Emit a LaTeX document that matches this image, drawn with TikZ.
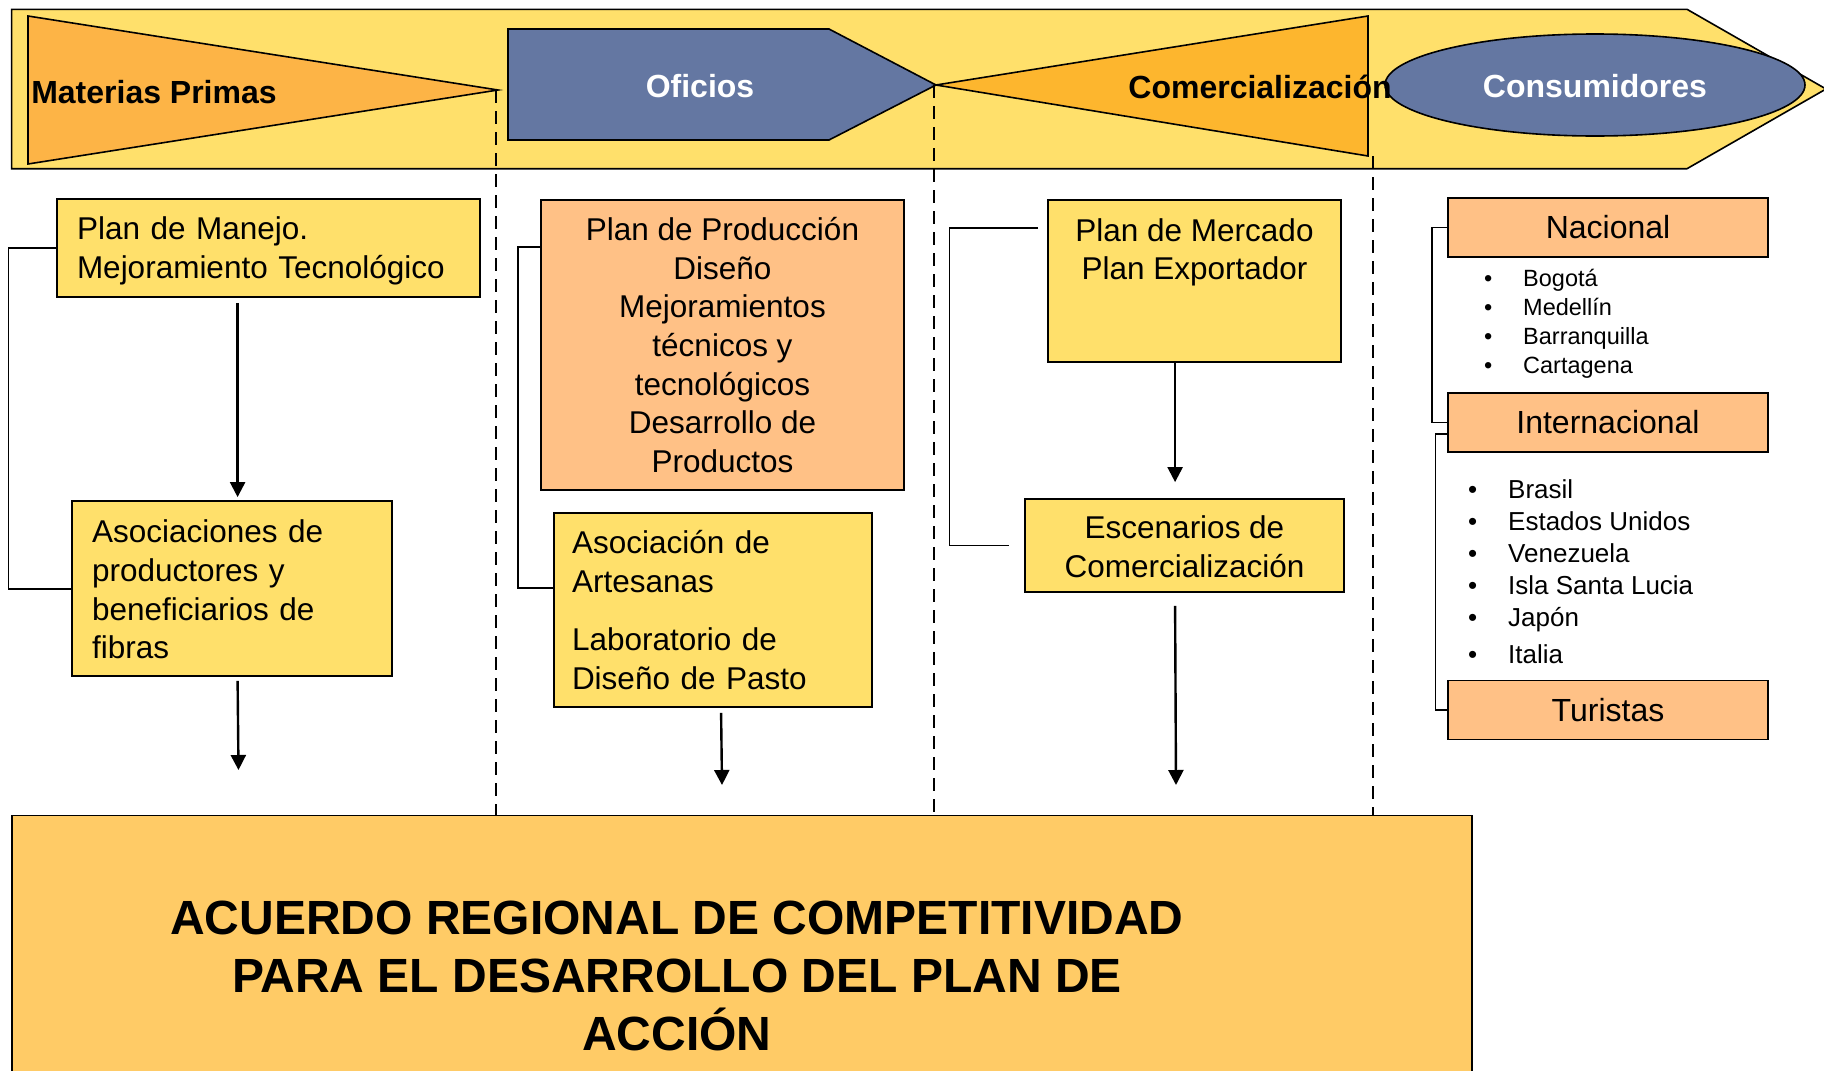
\documentclass[tikz,border=0pt]{standalone}
\usepackage{fontspec}
\setmainfont{Liberation Sans}
\usetikzlibrary{arrows.meta,calc,shapes.geometric}
\definecolor{bannerY}{HTML}{FFE06B}
\definecolor{mpOrange}{HTML}{FDB446}
\definecolor{slateB}{HTML}{6477A2}
\definecolor{comOrange}{HTML}{FDB62E}
\definecolor{boxY}{HTML}{FFE06B}
\definecolor{peach}{HTML}{FFC186}
\definecolor{bottomY}{HTML}{FFCB66}
\begin{document}
\begin{tikzpicture}[x=1pt,y=-1pt,
  ybox/.style={draw=black, line width=1.8pt, fill=boxY, inner sep=0pt, font=\fontsize{31.5}{38.6}\selectfont},
  pbox/.style={draw=black, line width=1.8pt, fill=peach, inner sep=0pt, font=\fontsize{31.5}{38.6}\selectfont},
  cbox/.style={draw=black, line width=1.8pt, fill=peach, inner sep=0pt, minimum width=320pt, minimum height=59pt, font=\fontsize{32}{38}\selectfont},
  shapeline/.style={draw=black, line width=1.6pt},
  bannerlbl/.style={font=\bfseries\fontsize{32}{38}\selectfont, inner sep=0pt},
  bracket/.style={line width=1.5pt},
  arr/.style={line width=2.4pt, -{Triangle[length=15pt,width=15pt]}},
  sepline/.style={line width=1.8pt, dash pattern=on 13pt off 8pt},
  smalllist/.style={anchor=base west, inner sep=0pt, font=\fontsize{23.5}{28}\selectfont},
  biglist/.style={anchor=base west, inner sep=0pt, font=\fontsize{26}{30}\selectfont}
]
\useasboundingbox (0,0) rectangle (1824,1071);
\clip (0,0) rectangle (1824,1071);
\fill[white] (0,0) rectangle (1824,1071);

% banner
\draw[shapeline, fill=bannerY] (11.6,9.3) -- (1687,9.3) -- (1826,89) -- (1687,168.7) -- (11.6,168.7) -- cycle;
\draw[shapeline, fill=mpOrange] (28,16) -- (498,90) -- (28,164) -- cycle;
\draw[shapeline, fill=slateB] (508,29) -- (829,29) -- (936,85) -- (829,140) -- (508,140) -- cycle;
\draw[shapeline, fill=comOrange] (936,85) -- (1368,16) -- (1368,156) -- cycle;
\draw[shapeline, fill=slateB] (1595,85) ellipse [x radius=210, y radius=51];

\node[bannerlbl] (mp) at (154,92) {Materias Primas};
\node[bannerlbl, text=white] (of) at (700,86) {Oficios};
\node[bannerlbl] (com) at (1260,87) {Comercialización};
\node[bannerlbl, text=white] (cons) at (1595,86) {Consumidores};

% dashed separators
\coordinate (d1t) at (495.6,90);  \coordinate (d1b) at (495.6,815);
\coordinate (d2t) at (934,85);    \coordinate (d2b) at (934,815);
\coordinate (d3t) at (1373,156);  \coordinate (d3b) at (1373,815);
\draw[sepline] (d1t) -- (d1b);
\draw[sepline] (d2t) -- (d2b);
\draw[sepline] (d3t) -- (d3b);

% bottom box
\draw[line width=1.8pt, fill=bottomY] (11.6,815.5) rectangle (1471.6,1090);
\node[align=center, inner sep=0pt, font=\bfseries\fontsize{48}{58}\selectfont] (acuerdo) at (677,976) {ACUERDO REGIONAL DE COMPETITIVIDAD\\PARA EL DESARROLLO DEL PLAN DE\\ACCIÓN};

% column 1
\node[ybox, minimum height=98pt, text width=383pt, inner xsep=20pt, align=left] (manejo) at (268.5,248) {\rule{0pt}{28pt}Plan de Manejo.\\Mejoramiento Tecnológico};
\node[ybox, minimum height=175pt, text width=280pt, inner xsep=20pt, align=left] (asoc) at (232,588.5) {\rule{0pt}{25pt}Asociaciones de\\productores y\\beneficiarios de\\fibras};
\draw[arr] ($(manejo.south west)+(181.5,5)$) -- ($(asoc.north west)+(166.5,-3)$);
\coordinate (e1) at (238.5,770);
\draw[arr] ($(asoc.south west)+(166.5,4)$) -- (e1);
\draw[bracket] (manejo.west) -- ++(-47.7,0) |- ($(asoc.west)+(0,0.5)$);

% column 2
\node[pbox, minimum width=363pt, minimum height=290pt, align=center] (prod) at (722.5,345) {Plan de Producción\\Diseño\\Mejoramientos\\técnicos y\\tecnológicos\\Desarrollo de\\Productos};
\node[ybox, minimum height=194pt, text width=282pt, inner xsep=18pt, align=left] (artes) at (713,610) {Asociación de\\Artesanas\\[19.4pt]Laboratorio de\\Diseño de Pasto};
\coordinate (e2) at (722,785);
\draw[arr] ($(artes.south west)+(168,5)$) -- (e2);
\draw[bracket] ($(prod.north west)+(0,48)$) -- ++(-22,0) |- ($(artes.north west)+(0,76)$);

% column 3
\node[ybox, minimum width=293pt, minimum height=162pt] (merc) at (1194.5,281) {};
\node[anchor=north, inner sep=0pt, align=center, font=\fontsize{31.5}{38.6}\selectfont] (merct) at (1194.5,218) {Plan de Mercado\\Plan Exportador};
\node[ybox, minimum width=319pt, minimum height=93pt, align=center] (esc) at (1184.5,545.5) {\rule{0pt}{25pt}Escenarios de\\Comercialización};
\draw[arr] ($(merc.south west)+(128,0)$) -- ($(esc.north west)+(151,-16)$);
\coordinate (e3) at (1176,785);
\draw[arr] ($(esc.south west)+(151,13)$) -- (e3);
\draw[bracket] ($(merc.north west)+(-9,29)$) -- ++(-88.5,0) |- ($(esc.west)+(-15,0)$);

% column 4
\node[cbox] (nac) at (1608,227.5) {Nacional};
\node[cbox] (int) at (1608,422.5) {Internacional};
\node[cbox] (tur) at (1608,710) {Turistas};
\draw[bracket] (nac.west) -- ++(-15,0) |- (int.west);
\draw[bracket] ($(int.west)+(0,11.5)$) -- ++(-11.5,0) |- (tur.west);

\node[smalllist] (n1) at (1484,286) {\makebox[39pt][l]{•}Bogotá};
\node[smalllist] (n2) at (1484,315) {\makebox[39pt][l]{•}Medellín};
\node[smalllist] (n3) at (1484,344) {\makebox[39pt][l]{•}Barranquilla};
\node[smalllist] (n4) at (1484,373) {\makebox[39pt][l]{•}Cartagena};

\node[biglist] (i1) at (1468,498.3) {\makebox[40pt][l]{•}Brasil};
\node[biglist] (i2) at (1468,530.3) {\makebox[40pt][l]{•}Estados Unidos};
\node[biglist] (i3) at (1468,562.3) {\makebox[40pt][l]{•}Venezuela};
\node[biglist] (i4) at (1468,594.3) {\makebox[40pt][l]{•}Isla Santa Lucia};
\node[biglist] (i5) at (1468,626.3) {\makebox[40pt][l]{•}Japón};
\node[biglist] (i6) at (1468,663.3) {\makebox[40pt][l]{•}Italia};
\end{tikzpicture}
\end{document}
